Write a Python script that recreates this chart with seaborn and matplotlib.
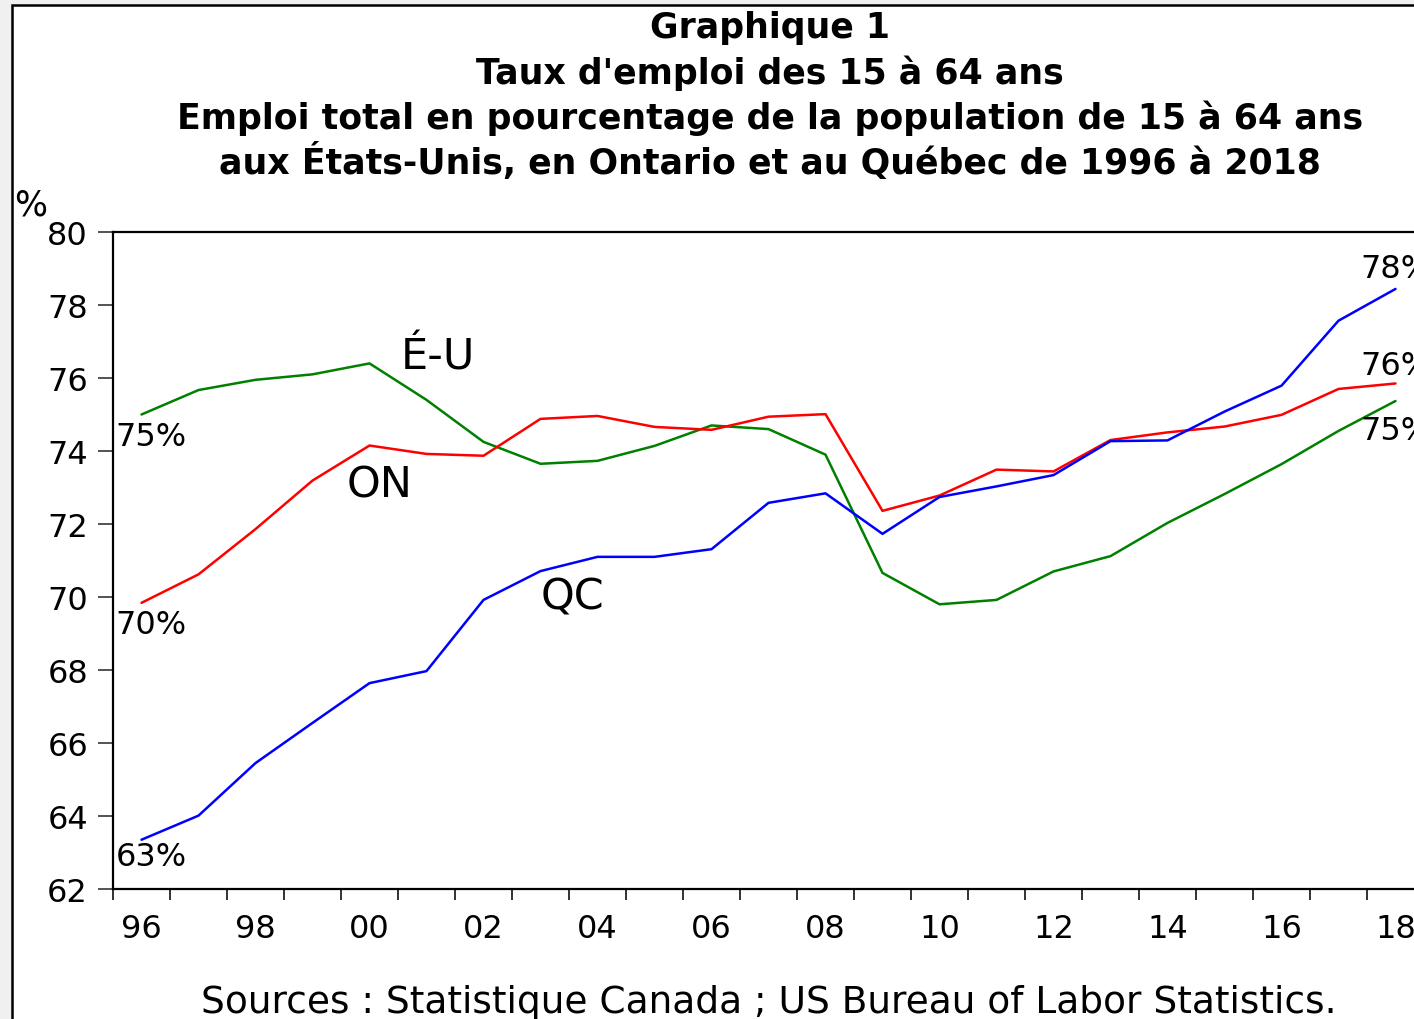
import numpy as np
import pandas as pd
import matplotlib
matplotlib.use("Agg")
import matplotlib.pyplot as plt
from matplotlib.patches import Rectangle
import seaborn as sns

# Taux d'emploi des 15 à 64 ans (%)
annees = list(range(1996, 2019))
taux_eu = [75.0, 75.67, 75.95, 76.1, 76.4, 75.4, 74.25, 73.65, 73.73, 74.14, 74.7, 74.6,
           73.9, 70.66, 69.8, 69.92, 70.7, 71.12, 72.03, 72.82, 73.64, 74.55, 75.37]
taux_on = [69.84, 70.62, 71.86, 73.19, 74.15, 73.92, 73.87, 74.88, 74.96, 74.66, 74.58, 74.94,
           75.01, 72.36, 72.78, 73.49, 73.44, 74.3, 74.51, 74.67, 74.99, 75.7, 75.85]
taux_qc = [63.35, 64.01, 65.45, 66.55, 67.64, 67.97, 69.92, 70.71, 71.1, 71.1, 71.31, 72.58,
           72.84, 71.73, 72.74, 73.03, 73.34, 74.27, 74.29, 75.08, 75.79, 77.57, 78.44]
regions = ["É-U", "ON", "QC"]
couleurs = {"É-U": "#008000", "ON": "#ff0000", "QC": "#0000ff"}

df = pd.DataFrame({
    "annee": annees * 3,
    "taux": taux_eu + taux_on + taux_qc,
    "region": [r for r in regions for _ in annees],
})

sns.set_style("white")
plt.rcParams["font.family"] = ["DejaVu Sans"]
plt.rcParams["text.color"] = "black"
plt.rcParams["xtick.color"] = "black"
plt.rcParams["ytick.color"] = "black"

W, H = 1414, 1020
fig = plt.figure(figsize=(W / 100, H / 100), dpi=100)
fig.patch.set_facecolor("#f0f0f0")
# panneau blanc avec bordure noire
fig.patches.append(Rectangle((12 / W, -0.1), 2, 1 - 6 / H + 0.1, transform=fig.transFigure,
                             facecolor="white", edgecolor="black", lw=1.8, zorder=-1))

ax = fig.add_axes([113 / W, 130 / H, 1311 / W, 657 / H])
sns.lineplot(data=df, x="annee", y="taux", hue="region", palette=couleurs,
             linewidth=1.8, legend=False, ax=ax)
ax.set_xlim(1995.5, 2018.5)
ax.set_ylim(62, 80)
ax.set_xlabel("")
ax.set_ylabel("")

# axe y
ax.set_yticks(range(62, 81, 2))
ax.tick_params(axis="y", direction="out", length=11, width=1.3, color="#444444",
               labelcolor="black", labelsize=23, pad=7, left=True)
# axe x : traits entre les années, étiquettes au centre des années paires
ax.set_xticks(np.arange(1995.5, 2019, 1))
ax.set_xticklabels([])
ax.tick_params(axis="x", which="major", direction="out", length=8, width=1.3, color="#222222",
               bottom=True)
paires = [a for a in annees if a % 2 == 0]
ax.set_xticks(paires, minor=True)
ax.set_xticklabels([f"{a % 100:02d}" for a in paires], minor=True)
ax.tick_params(axis="x", which="minor", length=0, labelsize=23, labelcolor="black", pad=17)

for s in ax.spines.values():
    s.set_visible(True)
    s.set_color("black")
    s.set_linewidth(1.6)

# étiquettes dans le graphique
txt = dict(fontsize=23, va="center", ha="left")
ax.text(1995.55, 74.41, "75%", **txt)
ax.text(1995.55, 69.26, "70%", **txt)
ax.text(1995.55, 62.88, "63%", **txt)
ax.text(2017.38, 78.99, "78%", **txt)
ax.text(2017.38, 76.33, "76%", **txt)
ax.text(2017.38, 74.55, "75%", **txt)
nom = dict(fontsize=31, va="center", ha="left")
ax.text(2000.54, 76.58, "É-U", **nom)
ax.text(1999.6, 73.07, "ON", **nom)
ax.text(2003.01, 70.0, "QC", **nom)

fig.text(14 / W, 1 - 206 / H, "%", fontsize=25, ha="left", va="center")

titres = ["Graphique 1",
          "Taux d'emploi des 15 à 64 ans",
          "Emploi total en pourcentage de la population de 15 à 64 ans",
          "aux États-Unis, en Ontario et au Québec de 1996 à 2018"]
for t, y in zip(titres, [28, 73, 118, 162]):
    fig.text(770 / W, 1 - y / H, t, fontsize=25, fontweight="bold", ha="center", va="center")

fig.text(769 / W, 1 - 1003 / H, "Sources : Statistique Canada ; US Bureau of Labor Statistics.",
         fontsize=27, ha="center", va="center")

fig.savefig("out.png", dpi=100, facecolor=fig.get_facecolor())
